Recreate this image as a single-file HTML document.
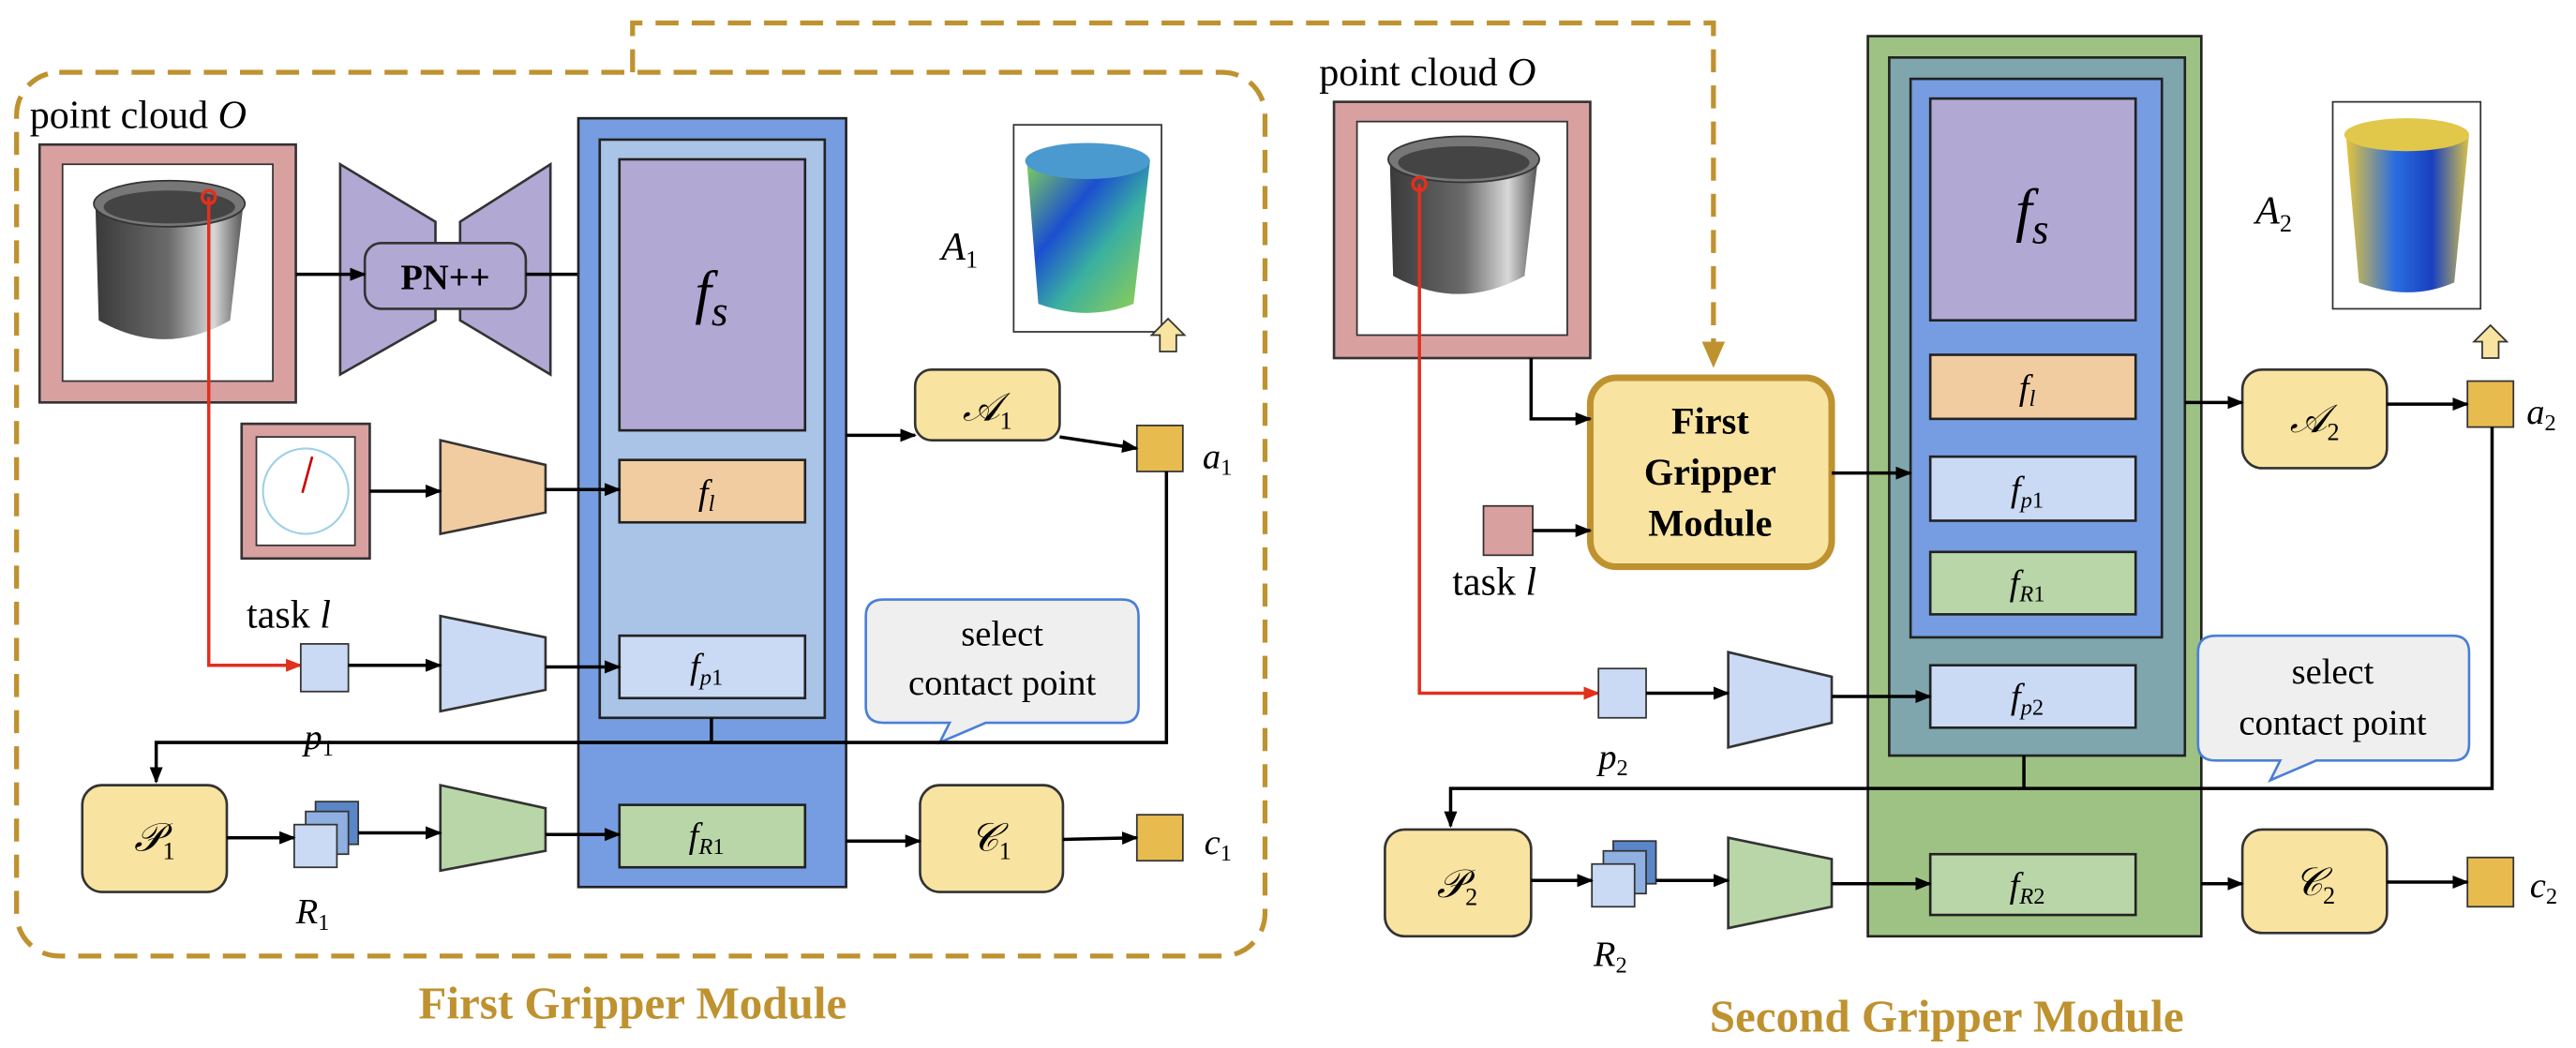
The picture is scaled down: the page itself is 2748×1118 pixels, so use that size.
<!DOCTYPE html>
<html><head><meta charset="utf-8"><style>
html,body{margin:0;padding:0;background:#fff;}
svg{display:block;}
text{font-family:"Liberation Serif",serif;}
.it{font-style:italic;}
</style></head><body>
<svg width="2748" height="1118" viewBox="0 0 1568 638" xmlns="http://www.w3.org/2000/svg">
<defs>
<marker id="ar" markerWidth="10" markerHeight="8" refX="9" refY="4" orient="auto" markerUnits="userSpaceOnUse"><path d="M0,0 L10,4 L0,8 z" fill="#000"/></marker>
<marker id="arr" markerWidth="10" markerHeight="8" refX="9" refY="4" orient="auto" markerUnits="userSpaceOnUse"><path d="M0,0 L10,4 L0,8 z" fill="#e0301e"/></marker>
<marker id="arg" markerWidth="16" markerHeight="14" refX="14" refY="7" orient="auto" markerUnits="userSpaceOnUse"><path d="M0,0 L16,7 L0,14 z" fill="#BF9230"/></marker>
<linearGradient id="buck" x1="0" x2="1"><stop offset="0" stop-color="#3a3a3a"/><stop offset="0.5" stop-color="#6b6b6b"/><stop offset="0.8" stop-color="#d8d8d8"/><stop offset="1" stop-color="#555"/></linearGradient>
<linearGradient id="heat1" x1="0" x2="1" y1="0" y2="1"><stop offset="0" stop-color="#7fd05a"/><stop offset="0.35" stop-color="#1b4fd0"/><stop offset="0.6" stop-color="#3ab0a0"/><stop offset="1" stop-color="#9cd24a"/></linearGradient>
<linearGradient id="heat2" x1="0" x2="1"><stop offset="0" stop-color="#e6c43a"/><stop offset="0.4" stop-color="#2a6de0"/><stop offset="0.7" stop-color="#1840c0"/><stop offset="1" stop-color="#d8c24a"/></linearGradient>
</defs>

<rect x="10" y="44" width="760" height="538" rx="26" fill="none" stroke="#BF9230" stroke-width="3" stroke-dasharray="14,8"/>
<path d="M385,44 L385,14 L1043,14 L1043,222" fill="none" stroke="#BF9230" stroke-width="3" stroke-dasharray="14,8" marker-end="url(#arg)"/>

<text x="18" y="78" font-size="24">point cloud <tspan class="it">O</tspan></text>
<rect x="24" y="88" width="156" height="157" fill="#D9A0A0" stroke="#333" stroke-width="1.5"/>
<rect x="38" y="100" width="128" height="132" fill="#fff" stroke="#333" stroke-width="1"/>
<path d="M58,125 L60,195 Q100,218 140,195 L148,125 Z" fill="url(#buck)"/>
<ellipse cx="103" cy="124" rx="46" ry="14" fill="#777" stroke="#333"/>
<ellipse cx="103" cy="126" rx="40" ry="10" fill="#444"/>

<path d="M207,100 L265,135 L265,195 L207,228 Z" fill="#B1A8D4" stroke="#333" stroke-width="1.5"/>
<path d="M280,135 L335,100 L335,228 L280,195 Z" fill="#B1A8D4" stroke="#333" stroke-width="1.5"/>
<rect x="222" y="148" width="98" height="40" rx="10" fill="#B1A8D4" stroke="#333" stroke-width="1.5"/>
<text x="271" y="176" font-size="22" font-weight="bold" text-anchor="middle">PN++</text>
<line x1="180" y1="167" x2="222" y2="167" stroke="#000" stroke-width="2" marker-end="url(#ar)"/>
<line x1="320" y1="167" x2="377" y2="167" stroke="#000" stroke-width="2" marker-end="url(#ar)"/>

<rect x="352" y="72" width="163" height="468" fill="#769DE1" stroke="#222" stroke-width="1.5"/>
<rect x="365" y="85" width="137" height="352" fill="#A9C4E6" stroke="#222" stroke-width="1.5"/>
<rect x="377" y="97" width="113" height="165" fill="#B1A8D4" stroke="#222" stroke-width="1.5"/>
<text x="433" y="190" font-size="36" text-anchor="middle" class="it">f<tspan font-size="26" dy="8">s</tspan></text>
<rect x="377" y="280" width="113" height="38" fill="#F2CCA1" stroke="#222" stroke-width="1.5"/>
<text x="430" y="307" font-size="22" text-anchor="middle" class="it">f<tspan font-size="14" dy="4">l</tspan></text>
<rect x="377" y="387" width="113" height="38" fill="#CADAF4" stroke="#222" stroke-width="1.5"/>
<text x="430" y="413" font-size="22" text-anchor="middle" class="it">f<tspan font-size="14" dy="4">p</tspan><tspan font-size="14" font-style="normal">1</tspan></text>
<rect x="377" y="490" width="113" height="38" fill="#B9D6A9" stroke="#222" stroke-width="1.5"/>
<text x="430" y="516" font-size="22" text-anchor="middle" class="it">f<tspan font-size="14" dy="4">R</tspan><tspan font-size="14" font-style="normal">1</tspan></text>

<text x="573" y="158" font-size="24" class="it">A<tspan font-size="15" dy="5" font-style="normal">1</tspan></text>
<rect x="617" y="76" width="90" height="126" fill="#fff" stroke="#333"/>
<path d="M625,98 L632,185 Q662,196 690,185 L700,98 Z" fill="url(#heat1)"/>
<ellipse cx="662" cy="98" rx="38" ry="11" fill="#4a9ad0"/>
<path d="M706,214 L706,204 L701,204 L711,194 L721,204 L716,204 L716,214 Z" fill="#F8E3A0" stroke="#333"/>
<rect x="557" y="225" width="88" height="43" rx="10" fill="#F8E3A0" stroke="#333" stroke-width="1.5"/>
<text x="601" y="256" font-size="24" text-anchor="middle" class="it">𝒜<tspan font-size="15" dy="5" font-style="normal">1</tspan></text>
<rect x="692" y="259" width="28" height="28" fill="#E8BB4E" stroke="#333"/>
<text x="732" y="285" font-size="22" class="it">a<tspan font-size="14" dy="4" font-style="normal">1</tspan></text>
<line x1="515" y1="265" x2="557" y2="265" stroke="#000" stroke-width="2" marker-end="url(#ar)"/>
<line x1="645" y1="266" x2="692" y2="273" stroke="#000" stroke-width="2" marker-end="url(#ar)"/>

<rect x="147" y="258" width="78" height="82" fill="#D9A0A0" stroke="#333" stroke-width="1.5"/>
<rect x="156" y="266" width="60" height="66" fill="#fff" stroke="#333"/>
<circle cx="186" cy="299" r="26" fill="none" stroke="#9fd0e8" stroke-width="1.2"/>
<line x1="184" y1="300" x2="190" y2="278" stroke="#c00" stroke-width="1.5"/>
<text x="150" y="382" font-size="24">task <tspan class="it">l</tspan></text>
<path d="M268,268 L332,283 L332,312 L268,325 Z" fill="#F2CCA1" stroke="#333" stroke-width="1.5"/>
<line x1="225" y1="299" x2="268" y2="299" stroke="#000" stroke-width="2" marker-end="url(#ar)"/>
<line x1="332" y1="298" x2="377" y2="298" stroke="#000" stroke-width="2" marker-end="url(#ar)"/>

<path d="M127,120 L127,405 L183,405" fill="none" stroke="#e0301e" stroke-width="2" marker-end="url(#arr)"/>
<circle cx="127" cy="120" r="4" fill="none" stroke="#e0301e" stroke-width="2"/>
<rect x="183" y="392" width="29" height="29" fill="#CADAF4" stroke="#333"/>
<text x="185" y="456" font-size="22" class="it">p<tspan font-size="14" dy="4" font-style="normal">1</tspan></text>
<path d="M268,375 L332,388 L332,420 L268,433 Z" fill="#CADAF4" stroke="#333" stroke-width="1.5"/>
<line x1="212" y1="405" x2="268" y2="405" stroke="#000" stroke-width="2" marker-end="url(#ar)"/>
<line x1="332" y1="406" x2="377" y2="406" stroke="#000" stroke-width="2" marker-end="url(#ar)"/>

<path d="M538,365 L683,365 Q693,365 693,375 L693,430 Q693,440 683,440 L600,440 L572,452 L578,440 L538,440 Q527,440 527,430 L527,375 Q527,365 538,365 Z" fill="#EFEFEF" stroke="#4a7fd8" stroke-width="1.5"/>
<text x="610" y="393" font-size="22" text-anchor="middle">select</text>
<text x="610" y="423" font-size="22" text-anchor="middle">contact point</text>

<path d="M710,287 L710,452 L95,452 L95,476" fill="none" stroke="#000" stroke-width="2" marker-end="url(#ar)"/>
<line x1="433" y1="437" x2="433" y2="452" stroke="#000" stroke-width="2"/>
<rect x="50" y="478" width="88" height="65" rx="12" fill="#F8E3A0" stroke="#333" stroke-width="1.5"/>
<text x="94" y="518" font-size="24" text-anchor="middle" class="it">𝒫<tspan font-size="15" dy="5" font-style="normal">1</tspan></text>
<rect x="192" y="488" width="26" height="26" fill="#5a86c8" stroke="#333"/>
<rect x="186" y="494" width="26" height="26" fill="#8fb0e0" stroke="#333"/>
<rect x="179" y="502" width="26" height="26" fill="#CADAF4" stroke="#333"/>
<text x="180" y="562" font-size="22" class="it">R<tspan font-size="14" dy="4" font-style="normal">1</tspan></text>
<path d="M268,478 L332,492 L332,518 L268,530 Z" fill="#B9D6A9" stroke="#333" stroke-width="1.5"/>
<line x1="138" y1="510" x2="179" y2="510" stroke="#000" stroke-width="2" marker-end="url(#ar)"/>
<line x1="218" y1="507" x2="268" y2="507" stroke="#000" stroke-width="2" marker-end="url(#ar)"/>
<line x1="332" y1="508" x2="377" y2="508" stroke="#000" stroke-width="2" marker-end="url(#ar)"/>
<rect x="560" y="478" width="87" height="65" rx="12" fill="#F8E3A0" stroke="#333" stroke-width="1.5"/>
<text x="603" y="518" font-size="24" text-anchor="middle" class="it">𝒞<tspan font-size="15" dy="5" font-style="normal">1</tspan></text>
<line x1="515" y1="512" x2="560" y2="512" stroke="#000" stroke-width="2" marker-end="url(#ar)"/>
<rect x="692" y="496" width="28" height="28" fill="#E8BB4E" stroke="#333"/>
<line x1="647" y1="511" x2="692" y2="510" stroke="#000" stroke-width="2" marker-end="url(#ar)"/>
<text x="733" y="520" font-size="22" class="it">c<tspan font-size="14" dy="4" font-style="normal">1</tspan></text>
<text x="385" y="620" font-size="28" font-weight="bold" fill="#BF9230" text-anchor="middle">First Gripper Module</text>

<text x="803" y="52" font-size="24">point cloud <tspan class="it">O</tspan></text>
<rect x="812" y="62" width="156" height="156" fill="#D9A0A0" stroke="#333" stroke-width="1.5"/>
<rect x="826" y="74" width="128" height="130" fill="#fff" stroke="#333" stroke-width="1"/>
<path d="M846,98 L848,168 Q888,190 928,168 L936,98 Z" fill="url(#buck)"/>
<ellipse cx="891" cy="97" rx="46" ry="14" fill="#777" stroke="#333"/>
<ellipse cx="891" cy="99" rx="40" ry="10" fill="#444"/>

<rect x="1137" y="22" width="203" height="548" fill="#9DC284" stroke="#222" stroke-width="1.5"/>
<rect x="1150" y="35" width="180" height="425" fill="#7FA6AD" stroke="#222" stroke-width="1.5"/>
<rect x="1163" y="48" width="153" height="340" fill="#769DE1" stroke="#222" stroke-width="1.5"/>
<rect x="1175" y="60" width="125" height="135" fill="#B1A8D4" stroke="#222" stroke-width="1.5"/>
<text x="1237" y="140" font-size="36" text-anchor="middle" class="it">f<tspan font-size="26" dy="8">s</tspan></text>
<rect x="1175" y="216" width="125" height="39" fill="#F2CCA1" stroke="#222" stroke-width="1.5"/>
<text x="1234" y="243" font-size="22" text-anchor="middle" class="it">f<tspan font-size="14" dy="4">l</tspan></text>
<rect x="1175" y="278" width="125" height="39" fill="#CADAF4" stroke="#222" stroke-width="1.5"/>
<text x="1234" y="305" font-size="22" text-anchor="middle" class="it">f<tspan font-size="14" dy="4">p</tspan><tspan font-size="14" font-style="normal">1</tspan></text>
<rect x="1175" y="336" width="125" height="38" fill="#B9D6A9" stroke="#222" stroke-width="1.5"/>
<text x="1234" y="362" font-size="22" text-anchor="middle" class="it">f<tspan font-size="14" dy="4">R</tspan><tspan font-size="14" font-style="normal">1</tspan></text>
<rect x="1175" y="405" width="125" height="38" fill="#CADAF4" stroke="#222" stroke-width="1.5"/>
<text x="1234" y="431" font-size="22" text-anchor="middle" class="it">f<tspan font-size="14" dy="4">p</tspan><tspan font-size="14" font-style="normal">2</tspan></text>
<rect x="1175" y="520" width="125" height="37" fill="#B9D6A9" stroke="#222" stroke-width="1.5"/>
<text x="1234" y="546" font-size="22" text-anchor="middle" class="it">f<tspan font-size="14" dy="4">R</tspan><tspan font-size="14" font-style="normal">2</tspan></text>

<rect x="968" y="230" width="147" height="115" rx="16" fill="#F8E3A0" stroke="#BF9230" stroke-width="4"/>
<text x="1041" y="264" font-size="23" font-weight="bold" text-anchor="middle">First</text>
<text x="1041" y="295" font-size="23" font-weight="bold" text-anchor="middle">Gripper</text>
<text x="1041" y="326" font-size="23" font-weight="bold" text-anchor="middle">Module</text>
<path d="M932,218 L932,255 L968,255" fill="none" stroke="#000" stroke-width="2" marker-end="url(#ar)"/>
<rect x="903" y="308" width="30" height="30" fill="#D9A0A0" stroke="#333"/>
<text x="884" y="362" font-size="24">task <tspan class="it">l</tspan></text>
<line x1="933" y1="323" x2="968" y2="323" stroke="#000" stroke-width="2" marker-end="url(#ar)"/>
<line x1="1115" y1="288" x2="1163" y2="288" stroke="#000" stroke-width="2" marker-end="url(#ar)"/>

<text x="1373" y="136" font-size="24" class="it">A<tspan font-size="15" dy="5" font-style="normal">2</tspan></text>
<rect x="1420" y="62" width="90" height="126" fill="#fff" stroke="#333"/>
<path d="M1428,82 L1436,172 Q1466,184 1494,172 L1503,82 Z" fill="url(#heat2)"/>
<ellipse cx="1465" cy="82" rx="38" ry="10" fill="#e2c84a"/>
<path d="M1511,218 L1511,208 L1506,208 L1516,198 L1526,208 L1521,208 L1521,218 Z" fill="#F8E3A0" stroke="#333"/>
<rect x="1365" y="225" width="88" height="60" rx="12" fill="#F8E3A0" stroke="#333" stroke-width="1.5"/>
<text x="1409" y="263" font-size="24" text-anchor="middle" class="it">𝒜<tspan font-size="15" dy="5" font-style="normal">2</tspan></text>
<line x1="1330" y1="245" x2="1365" y2="245" stroke="#000" stroke-width="2" marker-end="url(#ar)"/>
<rect x="1502" y="232" width="28" height="28" fill="#E8BB4E" stroke="#333"/>
<line x1="1453" y1="246" x2="1502" y2="246" stroke="#000" stroke-width="2" marker-end="url(#ar)"/>
<text x="1538" y="258" font-size="22" class="it">a<tspan font-size="14" dy="4" font-style="normal">2</tspan></text>

<path d="M864,112 L864,422 L973,422" fill="none" stroke="#e0301e" stroke-width="2" marker-end="url(#arr)"/>
<circle cx="864" cy="112" r="4" fill="none" stroke="#e0301e" stroke-width="2"/>
<rect x="973" y="407" width="29" height="30" fill="#CADAF4" stroke="#333"/>
<text x="973" y="468" font-size="22" class="it">p<tspan font-size="14" dy="4" font-style="normal">2</tspan></text>
<path d="M1052,397 L1115,412 L1115,440 L1052,455 Z" fill="#CADAF4" stroke="#333" stroke-width="1.5"/>
<line x1="1002" y1="422" x2="1052" y2="422" stroke="#000" stroke-width="2" marker-end="url(#ar)"/>
<line x1="1115" y1="424" x2="1175" y2="424" stroke="#000" stroke-width="2" marker-end="url(#ar)"/>

<path d="M1349,387 L1493,387 Q1503,387 1503,397 L1503,453 Q1503,463 1493,463 L1410,463 L1382,475 L1388,463 L1349,463 Q1338,463 1338,453 L1338,397 Q1338,387 1349,387 Z" fill="#EFEFEF" stroke="#4a7fd8" stroke-width="1.5"/>
<text x="1420" y="416" font-size="22" text-anchor="middle">select</text>
<text x="1420" y="447" font-size="22" text-anchor="middle">contact point</text>

<path d="M1517,260 L1517,480 L883,480 L883,503" fill="none" stroke="#000" stroke-width="2" marker-end="url(#ar)"/>
<line x1="1232" y1="460" x2="1232" y2="480" stroke="#000" stroke-width="2"/>
<rect x="843" y="505" width="89" height="65" rx="12" fill="#F8E3A0" stroke="#333" stroke-width="1.5"/>
<text x="887" y="546" font-size="24" text-anchor="middle" class="it">𝒫<tspan font-size="15" dy="5" font-style="normal">2</tspan></text>
<rect x="982" y="512" width="26" height="26" fill="#5a86c8" stroke="#333"/>
<rect x="976" y="518" width="26" height="26" fill="#8fb0e0" stroke="#333"/>
<rect x="969" y="526" width="26" height="26" fill="#CADAF4" stroke="#333"/>
<text x="970" y="588" font-size="22" class="it">R<tspan font-size="14" dy="4" font-style="normal">2</tspan></text>
<path d="M1052,510 L1115,523 L1115,552 L1052,565 Z" fill="#B9D6A9" stroke="#333" stroke-width="1.5"/>
<line x1="932" y1="536" x2="969" y2="536" stroke="#000" stroke-width="2" marker-end="url(#ar)"/>
<line x1="1008" y1="536" x2="1052" y2="536" stroke="#000" stroke-width="2" marker-end="url(#ar)"/>
<line x1="1115" y1="538" x2="1175" y2="538" stroke="#000" stroke-width="2" marker-end="url(#ar)"/>
<rect x="1365" y="505" width="88" height="63" rx="12" fill="#F8E3A0" stroke="#333" stroke-width="1.5"/>
<text x="1409" y="545" font-size="24" text-anchor="middle" class="it">𝒞<tspan font-size="15" dy="5" font-style="normal">2</tspan></text>
<line x1="1340" y1="538" x2="1365" y2="538" stroke="#000" stroke-width="2" marker-end="url(#ar)"/>
<rect x="1502" y="522" width="28" height="30" fill="#E8BB4E" stroke="#333"/>
<line x1="1453" y1="537" x2="1502" y2="537" stroke="#000" stroke-width="2" marker-end="url(#ar)"/>
<text x="1540" y="546" font-size="22" class="it">c<tspan font-size="14" dy="4" font-style="normal">2</tspan></text>
<text x="1185" y="628" font-size="28" font-weight="bold" fill="#BF9230" text-anchor="middle">Second Gripper Module</text>
</svg>
</body></html>
